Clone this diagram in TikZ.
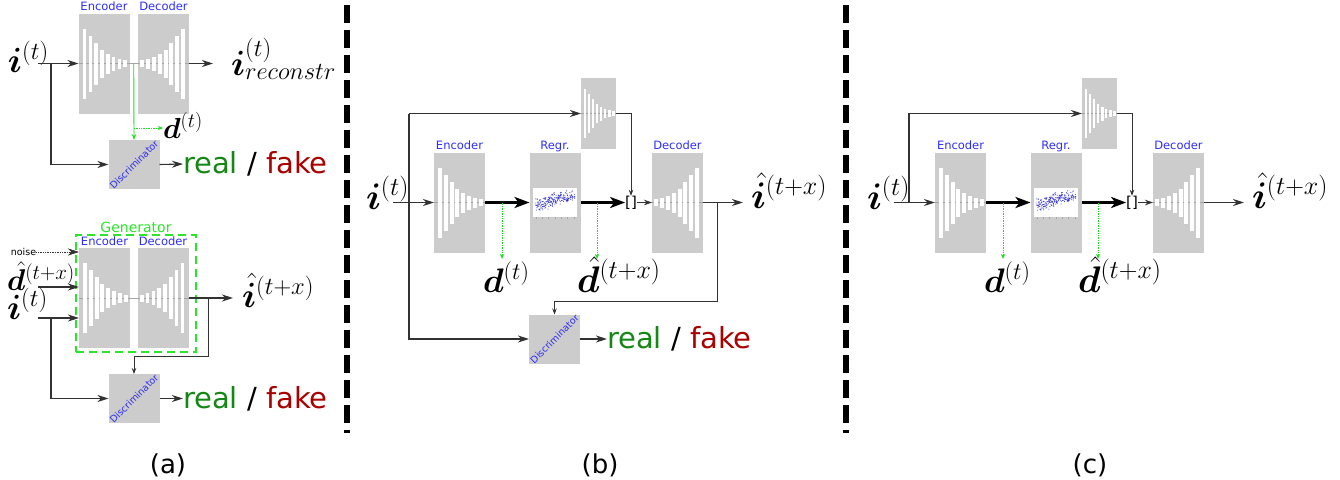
\RequirePackage{fix-cm}
\documentclass[tikz,border=0pt]{standalone}
\usepackage[no-math]{fontspec}
\usepackage{bm}
\newfontfamily\dv{DejaVu Sans}
\usetikzlibrary{arrows.meta,calc}
\definecolor{boxgray}{RGB}{204,204,204}
\definecolor{midgray}{RGB}{165,165,165}
\definecolor{lblue}{RGB}{45,45,250}
\definecolor{dotblue}{RGB}{40,40,200}
\definecolor{rgreen}{RGB}{20,135,20}
\definecolor{fred}{RGB}{170,0,0}
\definecolor{ggreen}{RGB}{40,230,40}
\definecolor{lgreen}{RGB}{30,220,30}
\definecolor{conn}{RGB}{50,50,50}
\newcommand\hd{\skew{6}{\hat}{\bm{d}}}
\newcommand\hi{\skew{3}{\hat}{\bm{i}}}
\tikzset{
  encbox/.style={fill=boxgray, draw=none, inner sep=0pt, outer sep=0pt, minimum width=51pt, minimum height=100pt},
  topbox/.style={encbox, minimum width=35pt, minimum height=71pt},
  discbox/.style={encbox, minimum width=51pt, minimum height=49pt},
  genbox/.style={draw=ggreen, line width=1.6pt, dash pattern=on 8pt off 5pt, inner sep=0pt, minimum width=120pt, minimum height=117pt},
  plotbox/.style={fill=white, draw=none, inner sep=0pt, outer sep=0pt, minimum width=44pt, minimum height=29pt},
  midline/.style={draw=midgray, line width=0.5pt},
  conn/.style={draw=conn, line width=1.1pt},
  arr/.style={conn, -{Stealth[length=11pt,width=7pt,inset=3.5pt]}},
  midarr/.style={conn, -{Stealth[length=8pt,width=5.5pt,inset=2.5pt]}},
  smallarr/.style={conn, line width=0.9pt, -{Stealth[length=6pt,width=4.5pt,inset=2pt]}},
  thickarr/.style={draw=black, line width=3pt, -{Stealth[length=15pt,width=11pt,inset=4pt]}},
  garr/.style={draw=lgreen, line width=0.7pt, densely dotted, -{Stealth[length=5pt,width=4pt,inset=1.5pt]}},
  gsolid/.style={draw=lgreen, line width=0.9pt, -{Stealth[length=6pt,width=4.5pt,inset=2pt]}},
  noisearr/.style={draw=conn, line width=0.7pt, densely dotted, -{Stealth[length=11pt,width=7pt,inset=3.5pt]}},
  mathlbl/.style={inner sep=0pt, outer sep=0pt, anchor=base west, font=\fontsize{37}{44}\selectfont},
  smallmath/.style={mathlbl, font=\fontsize{30}{36}\selectfont},
  rfnode/.style={inner sep=0pt, outer sep=0pt, anchor=west, font=\dv\fontsize{29}{34}\selectfont},
  lbltext/.style={inner sep=0pt, anchor=base, text=lblue, font=\dv\fontsize{11.5}{13}\selectfont},
  disctext/.style={inner sep=0pt, text=lblue, rotate=45, font=\dv\fontsize{9.5}{11}\selectfont},
  captext/.style={inner sep=0pt, font=\dv\fontsize{26}{30}\selectfont},
  noisetext/.style={inner sep=0pt, font=\dv\fontsize{9.5}{11}\selectfont},
  cattext/.style={inner sep=0pt, outer sep=0pt, font=\dv\fontsize{15}{17}\selectfont},
  sepline/.style={draw=black, line width=6pt, dash pattern=on 18pt off 7pt},
  encbars/.pic={
    \draw[midline] (-25.5,0) -- (25.5,0);
    \foreach \dx/\h in {6/35,12/28,17.7/21,23.3/14,29.3/10,35/7,41/5,46.7/3.5}
      \fill[white] (\dx-25.5-1.9,-\h) rectangle (\dx-25.5+1.9,\h);
  },
  decbars/.pic={
    \draw[midline] (-25.5,0) -- (25.5,0);
    \foreach \dx/\h in {6/35,12/28,17.7/21,23.3/14,29.3/10,35/7,41/5,46.7/3.5}
      \fill[white] (25.5-\dx-1.9,-\h) rectangle (25.5-\dx+1.9,\h);
  },
}
\newcommand\regrpanel{%
  \node[encbox] (enc) at (459.5,202.5) {};
  \node[encbox] (reg) at (555,202.5) {};
  \node[encbox] (dec) at (677.5,202.5) {};
  \node[topbox] (top) at (598.5,113.5) {};
  \pic at (enc) {encbars};
  \pic at (dec) {decbars};
  \pic[scale=0.7] at (top) {encbars};
  \node[plotbox] (plot) at (555,202.5) {};
  \foreach \t in {0,...,6}
    \draw[midgray, line width=0.3pt] ($(plot.south west)+(3+6.3*\t,0)$) -- ++(0,1.5);
  \pgfmathsetseed{7}
  \foreach \k in {1,...,230}{
    \pgfmathsetmacro\px{2+40*rnd}
    \pgfmathsetmacro\py{max(2,min(27,17-0.22*\px+6*(rnd+rnd+rnd-1.5)))}
    \fill[dotblue] ($(plot.north west)+(\px,\py)$) circle (0.5pt);
  }
  \node[lbltext] (encl) at ([yshift=3pt]enc.north) {Encoder};
  \node[lbltext] (regl) at ([yshift=3pt]reg.north) {Regr.};
  \node[lbltext] (decl) at ([yshift=3pt]dec.north) {Decoder};
  \node[mathlbl] (inl) at (366,209) {$\bm{i}^{(t)}$};
  \coordinate (in) at (393,202.5);
  \draw[arr] (in) -- (enc.west);
  \node[cattext] (cat) at (631,202.5) {[]};
  \draw[thickarr] (enc.east) -- (reg.west);
  \draw[thickarr] (reg.east) -- (cat.west);
  \draw[smallarr] (top.east) -| (cat.north);
  \draw[midarr] (cat.east) -- (dec.west);
  \coordinate (out) at (743,202.5);
  \draw[arr] (dec.east) -- (out);
  \node[mathlbl] (outl) at (751,208) {$\hi^{(t+x)}$};
  \coordinate (g1) at (502,202.5);
  \coordinate (g1e) at (502,259);
  \draw[garr] (g1) -- (g1e);
  \node[mathlbl, font=\fontsize{34}{40}\selectfont] (d1) at (483,292) {$\bm{d}^{(t)}$};
  \coordinate (g2) at (597,202.5);
  \coordinate (g2e) at (597,259);
  \draw[garr] (g2) -- (g2e);
  \node[mathlbl] (d2) at (577,292) {$\hd^{(t+x)}$};
}
\begin{document}
\begin{tikzpicture}[x=1pt,y=-1pt]
\useasboundingbox (0,0) rectangle (1340,479);
% ---------------- panel (a), top
\node[encbox] (encA) at (104,63.5) {};
\node[encbox] (decA) at (163.5,63.5) {};
\draw[midline] (encA) -- (decA);
\pic at (encA) {encbars};
\pic at (decA) {decbars};
\node[lbltext] (encAl) at ([yshift=3pt]encA.north) {Encoder};
\node[lbltext] (decAl) at ([yshift=3pt]decA.north) {Decoder};
\node[mathlbl, font=\fontsize{35}{42}\selectfont] (iA) at (8,72) {$\bm{i}^{(t)}$};
\coordinate (iAo) at (38,63.5);
\draw[arr] (iAo) -- (encA.west);
\node[discbox] (discA) at (134,164.5) {};
\node[disctext] (discAt) at (discA) {Discriminator};
\coordinate (iAb) at (51,63.5);
\draw[arr] (iAb) |- (discA.west);
\coordinate (recA) at (213,63.5);
\draw[arr] (decA.east) -- (recA);
\node[mathlbl, font=\fontsize{35}{42}\selectfont] (recAl) at (231,75) {$\bm{i}^{(t)}_{reconstr}$};
\coordinate (midA) at ($(encA.east)!0.5!(decA.west)$);
\draw[gsolid] (midA) -- (discA.north);
\node[mathlbl, font=\fontsize{29}{35}\selectfont] (dA) at (163,138) {$\bm{d}^{(t)}$};
\coordinate (dAs) at (134,128);
\draw[garr] (dAs) -- (dAs -| dA.west);
\node[rfnode] (rfA) at (183,164) {\textcolor{rgreen}{real} / \textcolor{fred}{fake}};
\draw[arr] (discA.east) -- (rfA.west);
% ---------------- panel (a), bottom
\node[genbox] (gen) at (136,293.5) {};
\node[lbltext, text=ggreen, font=\dv\fontsize{14}{16}\selectfont] (genl) at ([yshift=2pt]gen.north) {Generator};
\node[encbox] (encG) at (104.5,298) {};
\node[encbox] (decG) at (163,298) {};
\draw[midline] (encG) -- (decG);
\pic at (encG) {encbars};
\pic at (decG) {decbars};
\node[lbltext] (encGl) at ([yshift=2.5pt]encG.north) {Encoder};
\node[lbltext] (decGl) at ([yshift=2.5pt]decG.north) {Decoder};
\node[noisetext] (noise) at (23.5,252) {noise};
\draw[noisearr] (noise.east) -- (noise.east -| encG.west);
\node[smallmath] (dG) at (7,290.7) {$\hd^{(t+x)}$};
\coordinate (dGo) at (38,287);
\draw[arr] (dGo) -- (dGo -| encG.west);
\node[mathlbl, font=\fontsize{35}{42}\selectfont] (iG) at (7,319) {$\bm{i}^{(t)}$};
\coordinate (iGo) at (38,318);
\draw[arr] (iGo) -- (iGo -| encG.west);
\node[discbox] (discG) at (134,398.5) {};
\node[disctext] (discGt) at (discG) {Discriminator};
\coordinate (iGb) at (51,318);
\draw[arr] (iGb) |- (discG.west);
\coordinate (outG) at (233,298);
\draw[arr] (decG.east) -- (outG);
\node[mathlbl, font=\fontsize{35}{42}\selectfont] (ihG) at (242,307) {$\hi^{(t+x)}$};
\coordinate (brG) at (208,298);
\coordinate (brG2) at (208,356);
\draw[smallarr] (brG) -- (brG2) -| (discG.north);
\node[rfnode] (rfG) at (183,398.5) {\textcolor{rgreen}{real} / \textcolor{fred}{fake}};
\draw[arr] (discG.east) -- (rfG.west);
% ---------------- separators
\draw[sepline] (347,5) -- (347,433);
\draw[sepline] (846,5) -- (846,433);
% ---------------- panel (b)
\begin{scope}[name prefix=b-]
  \regrpanel
  \node[discbox] (disc) at (554.5,339) {};
  \node[disctext] (disct) at (disc) {Discriminator};
  \coordinate (vt) at (409,113.5);
  \draw[arr] (vt) -- (top.west);
  \draw[arr] (vt) |- (disc.west);
  \coordinate (br1) at (717,202.5);
  \coordinate (br2) at (717,301);
  \draw[smallarr] (br1) -- (br2) -| (disc.north);
  \node[rfnode] (rf) at (607,339) {\textcolor{rgreen}{real} / \textcolor{fred}{fake}};
  \draw[arr] (disc.east) -- (rf.west);
\end{scope}
% ---------------- panel (c)
\begin{scope}[xshift=501pt, name prefix=c-]
  \regrpanel
  \coordinate (vb) at (408,202.5);
  \draw[arr] (vb) |- (top.west);
\end{scope}
% ---------------- captions
\node[captext] (capA) at (168,465) {(a)};
\node[captext] (capB) at (600,465) {(b)};
\node[captext] (capC) at (1090,465) {(c)};
\end{tikzpicture}
\end{document}
